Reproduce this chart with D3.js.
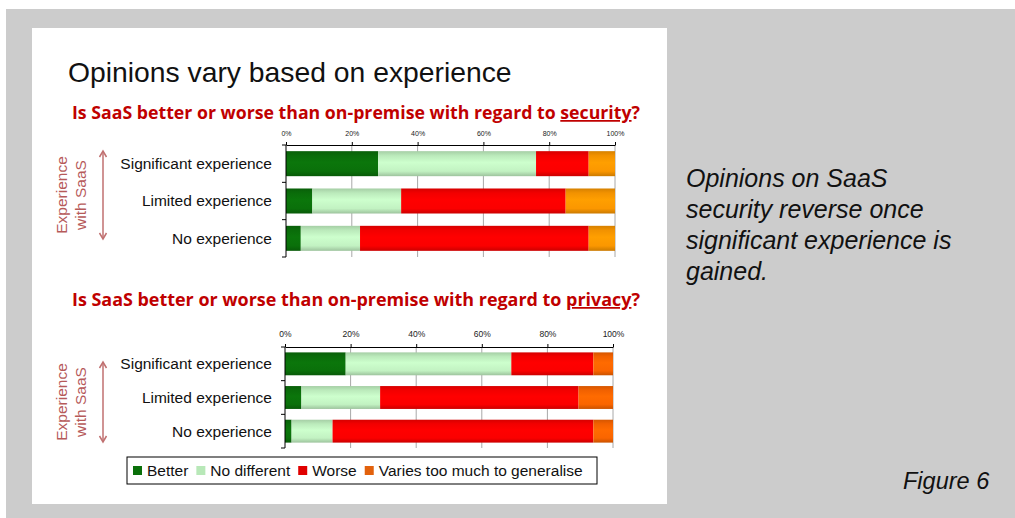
<!DOCTYPE html>
<html>
<head>
<meta charset="utf-8">
<script src="https://cdn.jsdelivr.net/npm/d3@7"></script>
<style>
  body { margin: 0; background: #fff; }
  svg { display: block; }
</style>
</head>
<body>
<svg id="fig" width="1015" height="518"></svg>
<script>
// ---- data -------------------------------------------------------------
const categories = ["Significant experience", "Limited experience", "No experience"];
const seriesNames = ["Better", "No different", "Worse", "Varies too much to generalise"];
const tickValues = [0, 20, 40, 60, 80, 100];
const tickLabels = ["0%", "20%", "40%", "60%", "80%", "100%"];

// security question, % of respondents per experience group
const securityBetter      = [28, 8, 4.5];
const securityNoDifferent = [48, 27, 18];
const securityWorse       = [16, 50, 69.5];
const securityVaries      = [8, 15, 8];

// privacy question, % of respondents per experience group
const privacyBetter      = [18.5, 5, 2];
const privacyNoDifferent = [50.5, 24, 12.5];
const privacyWorse       = [25, 60.5, 79.5];
const privacyVaries      = [6, 10.5, 6];

// ---- page frame ---------------------------------------------------------
const svg = d3.select("#fig");
const FONT = "'Liberation Sans', Arial, sans-serif";

svg.append("rect").attr("x", 6).attr("y", 9).attr("width", 1009).attr("height", 509).attr("fill", "#cccccc");
svg.append("rect").attr("x", 32).attr("y", 28).attr("width", 635).attr("height", 476).attr("fill", "#ffffff");

const defs = svg.append("defs");

// shaded fill: darker edges, brighter centre band
function makeGradient(id, base) {
  const c = d3.color(base);
  const g = defs.append("linearGradient").attr("id", id)
    .attr("x1", 0).attr("y1", 0).attr("x2", 0).attr("y2", 1);
  g.append("stop").attr("offset", "0%").attr("stop-color", c.darker(0.45));
  g.append("stop").attr("offset", "18%").attr("stop-color", c.darker(0.1));
  g.append("stop").attr("offset", "45%").attr("stop-color", c.brighter(0.15));
  g.append("stop").attr("offset", "80%").attr("stop-color", c);
  g.append("stop").attr("offset", "100%").attr("stop-color", c.darker(0.6));
  return `url(#${id})`;
}

const securityColors = ["#0a700a", "#c2f2c2", "#fb0000", "#fb9700"];
const privacyColors  = ["#0a700a", "#c2f2c2", "#fb0000", "#fa6500"];
const securityFills = securityColors.map((c, i) => makeGradient("sec" + i, c));
const privacyFills  = privacyColors.map((c, i) => makeGradient("prv" + i, c));
const legendColors  = ["#0a700a", "#b8e8b8", "#e00000", "#e2610c"];

// ---- headings -----------------------------------------------------------
svg.append("text").attr("x", 68).attr("y", 82)
  .attr("font-family", FONT).attr("font-size", 28.3).attr("fill", "#111")
  .text("Opinions vary based on experience");

function question(y, topic) {
  const t = svg.append("text").attr("x", 72).attr("y", y)
    .attr("font-family", "'Open Sans', 'Liberation Sans', sans-serif")
    .attr("font-weight", "bold").attr("font-size", 17.5).attr("fill", "#c00000")
    .attr("textLength", 568).attr("lengthAdjust", "spacingAndGlyphs");
  t.append("tspan").text("Is SaaS better or worse than on-premise with regard to ");
  t.append("tspan").attr("text-decoration", "underline").text(topic);
  t.append("tspan").text("?");
}
question(119, "security");
question(306, "privacy");

// ---- stacked bar panel --------------------------------------------------
function panel(opts) {
  const rows = categories.map((c, i) => {
    const r = { category: c };
    opts.series.forEach((arr, k) => { r[seriesNames[k]] = arr[i]; });
    return r;
  });
  const stack = d3.stack().keys(seriesNames)(rows);

  const x = d3.scaleLinear().domain([0, 100]).range([opts.left, opts.right]);
  const y = d3.scaleBand().domain(categories).range([opts.top, opts.bottom])
    .paddingInner(opts.pad).paddingOuter(opts.pad / 2);

  const g = svg.append("g");

  // vertical gridlines
  g.selectAll("line.grid").data(tickValues.slice(1)).join("line")
    .attr("class", "grid")
    .attr("x1", d => x(d)).attr("x2", d => x(d))
    .attr("y1", opts.top).attr("y2", opts.bottom)
    .attr("stroke", "#a8a8a8").attr("stroke-width", 1);

  // bars
  stack.forEach((layer, k) => {
    g.append("g").selectAll("rect").data(layer).join("rect")
      .attr("x", d => x(d[0]))
      .attr("width", d => x(d[1]) - x(d[0]))
      .attr("y", d => y(d.data.category))
      .attr("height", y.bandwidth())
      .attr("fill", opts.fills[k]);
  });

  // top percentage axis
  const ax = g.append("g").attr("transform", `translate(0,${opts.top})`)
    .call(d3.axisTop(x).tickValues(tickValues)
      .tickFormat((d, i) => tickLabels[i]).tickSize(3).tickSizeOuter(0).tickPadding(opts.tickPad));
  ax.select(".domain").attr("stroke", "#000");
  ax.selectAll(".tick line").attr("stroke", "#000");
  ax.selectAll(".tick text").attr("font-family", FONT)
    .attr("font-size", opts.tickFont).attr("fill", "#222");

  // category axis line with separators between bands
  g.append("line").attr("x1", x(0)).attr("x2", x(0))
    .attr("y1", opts.top).attr("y2", opts.bottom).attr("stroke", "#000");
  const bounds = d3.range(categories.length + 1).map(i => opts.top + i * y.step());
  g.selectAll("line.sep").data(bounds).join("line")
    .attr("class", "sep")
    .attr("x1", x(0) - 4).attr("x2", x(0))
    .attr("y1", d => d).attr("y2", d => d)
    .attr("stroke", "#000");

  // category labels
  g.selectAll("text.cat").data(categories).join("text")
    .attr("class", "cat")
    .attr("x", 272).attr("y", d => y(d) + y.bandwidth() / 2)
    .attr("dy", "0.35em").attr("text-anchor", "end")
    .attr("font-family", FONT).attr("font-size", 15.5).attr("fill", "#111")
    .text(d => d);

  // side caption with arrow
  const cy = (opts.arrowTop + opts.arrowBottom) / 2;
  const cap = g.append("text")
    .attr("transform", `translate(0,${cy}) rotate(-90)`)
    .attr("text-anchor", "middle").attr("font-family", FONT)
    .attr("font-size", 15.5).attr("fill", "#b65a5a");
  cap.append("tspan").attr("x", 0).attr("y", 67).text("Experience");
  cap.append("tspan").attr("x", 0).attr("y", 86).text("with SaaS");

  const ac = "#c07070";
  g.append("line").attr("x1", 103).attr("x2", 103)
    .attr("y1", opts.arrowTop).attr("y2", opts.arrowBottom)
    .attr("stroke", ac).attr("stroke-width", 1.5);
  const head = (yTip, dir) => `M${103 - 3.5},${yTip + dir * 6} L103,${yTip} L${103 + 3.5},${yTip + dir * 6}`;
  g.append("path").attr("d", head(opts.arrowTop, 1)).attr("fill", "none").attr("stroke", ac).attr("stroke-width", 1.5);
  g.append("path").attr("d", head(opts.arrowBottom, -1)).attr("fill", "none").attr("stroke", ac).attr("stroke-width", 1.5);
}

panel({
  series: [securityBetter, securityNoDifferent, securityWorse, securityVaries],
  fills: securityFills,
  left: 286, right: 615, top: 145, bottom: 257, pad: 0.33,
  tickFont: 7, tickPad: 6,
  arrowTop: 151, arrowBottom: 239
});

panel({
  series: [privacyBetter, privacyNoDifferent, privacyWorse, privacyVaries],
  fills: privacyFills,
  left: 285, right: 613, top: 347, bottom: 448, pad: 0.32,
  tickFont: 8.5, tickPad: 7,
  arrowTop: 362, arrowBottom: 442
});

// ---- legend -------------------------------------------------------------
const lg = svg.append("g");
lg.append("rect").attr("x", 127).attr("y", 457).attr("width", 470).attr("height", 27)
  .attr("fill", "#fff").attr("stroke", "#000").attr("stroke-width", 1);
let lx = 133;
seriesNames.forEach((name, k) => {
  lg.append("rect").attr("x", lx).attr("y", 466).attr("width", 9).attr("height", 9)
    .attr("fill", legendColors[k]);
  const t = lg.append("text").attr("x", lx + 14).attr("y", 476)
    .attr("font-family", FONT).attr("font-size", 15.5).attr("fill", "#111").text(name);
  lx += 14 + t.node().getComputedTextLength() + 8;
});

// ---- commentary ---------------------------------------------------------
const note = svg.append("text").attr("font-family", FONT).attr("font-style", "italic")
  .attr("font-size", 25).attr("fill", "#111");
["Opinions on SaaS", "security reverse once", "significant experience is", "gained."]
  .forEach((line, i) => note.append("tspan").attr("x", 686).attr("y", 187 + i * 31).text(line));

svg.append("text").attr("x", 903).attr("y", 489)
  .attr("font-family", FONT).attr("font-style", "italic").attr("font-size", 23.5)
  .attr("fill", "#111").text("Figure 6");
</script>
</body>
</html>
